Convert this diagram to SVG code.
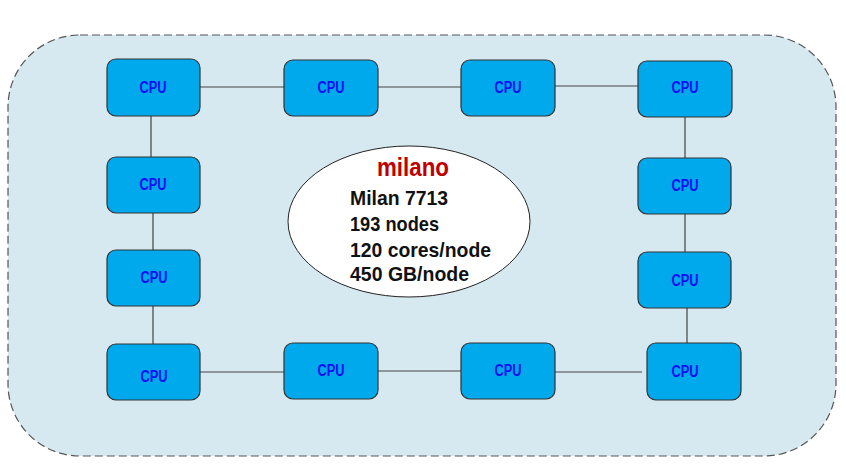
<svg xmlns="http://www.w3.org/2000/svg" width="846" height="469" viewBox="0 0 846 469">
<style>
.node rect{fill:#00a8ec;stroke:#333;stroke-width:1.2}
.node text{font-family:"Liberation Sans",Arial,sans-serif;font-weight:bold;font-size:16px;fill:#1010f0;text-anchor:middle}
.conn line{stroke:#444;stroke-width:1.2}
.info{font-family:"Liberation Sans",Arial,sans-serif;font-weight:bold;font-size:21px;fill:#111}
</style>
<rect x="0" y="0" width="846" height="469" fill="#fff"/>
<rect id="cluster" x="8" y="35" width="828" height="421" rx="72" ry="72" fill="#d6e9f1" stroke="#555" stroke-width="1.2" stroke-dasharray="8,4"/>
<g id="connectors" class="conn">
<line x1="200" y1="87" x2="284" y2="87"/>
<line x1="378" y1="87" x2="461" y2="87"/>
<line x1="555" y1="86" x2="638" y2="86"/>
<line x1="151" y1="116" x2="151" y2="157"/>
<line x1="153" y1="213" x2="153" y2="250"/>
<line x1="153" y1="306" x2="153" y2="344"/>
<line x1="685" y1="117" x2="685" y2="158"/>
<line x1="685" y1="214" x2="685" y2="252"/>
<line x1="687" y1="308" x2="687" y2="343"/>
<line x1="200" y1="372" x2="284" y2="372"/>
<line x1="378" y1="371" x2="461" y2="371"/>
<line x1="555" y1="372" x2="642" y2="372"/>
</g>
<g id="cpu1" class="node"><rect x="107" y="59" width="93" height="57" rx="9"/><text x="153" y="93" textLength="27" lengthAdjust="spacingAndGlyphs">CPU</text></g>
<g id="cpu2" class="node"><rect x="284" y="60" width="94" height="56" rx="9"/><text x="331" y="93" textLength="27" lengthAdjust="spacingAndGlyphs">CPU</text></g>
<g id="cpu3" class="node"><rect x="461" y="60" width="94" height="56" rx="9"/><text x="508" y="93" textLength="27" lengthAdjust="spacingAndGlyphs">CPU</text></g>
<g id="cpu4" class="node"><rect x="638" y="61" width="94" height="56" rx="9"/><text x="685" y="93" textLength="27" lengthAdjust="spacingAndGlyphs">CPU</text></g>
<g id="cpu5" class="node"><rect x="107" y="157" width="93" height="56" rx="9"/><text x="153" y="190" textLength="27" lengthAdjust="spacingAndGlyphs">CPU</text></g>
<g id="cpu6" class="node"><rect x="638" y="158" width="93" height="56" rx="9"/><text x="685" y="191" textLength="27" lengthAdjust="spacingAndGlyphs">CPU</text></g>
<g id="cpu7" class="node"><rect x="107" y="250" width="93" height="56" rx="9"/><text x="154" y="283" textLength="27" lengthAdjust="spacingAndGlyphs">CPU</text></g>
<g id="cpu8" class="node"><rect x="638" y="252" width="93" height="56" rx="9"/><text x="685" y="286" textLength="27" lengthAdjust="spacingAndGlyphs">CPU</text></g>
<g id="cpu9" class="node"><rect x="107" y="344" width="93" height="56" rx="9"/><text x="154" y="382" textLength="27" lengthAdjust="spacingAndGlyphs">CPU</text></g>
<g id="cpu10" class="node"><rect x="284" y="343" width="94" height="56" rx="9"/><text x="331" y="376" textLength="27" lengthAdjust="spacingAndGlyphs">CPU</text></g>
<g id="cpu11" class="node"><rect x="461" y="343" width="94" height="56" rx="9"/><text x="508" y="376" textLength="27" lengthAdjust="spacingAndGlyphs">CPU</text></g>
<g id="cpu12" class="node"><rect x="647" y="343" width="94" height="57" rx="9"/><text x="685" y="377" textLength="27" lengthAdjust="spacingAndGlyphs">CPU</text></g>
<g id="milano">
<ellipse cx="409" cy="221.5" rx="121" ry="75.5" fill="#fff" stroke="#222" stroke-width="1"/>
<text x="413" y="176" text-anchor="middle" font-family="'Liberation Sans',Arial,sans-serif" font-weight="bold" font-size="25" fill="#c00000" textLength="72" lengthAdjust="spacingAndGlyphs">milano</text>
<text class="info" x="350" y="205" textLength="98" lengthAdjust="spacingAndGlyphs">Milan 7713</text>
<text class="info" x="350" y="231" textLength="89" lengthAdjust="spacingAndGlyphs">193 nodes</text>
<text class="info" x="350" y="257" textLength="141" lengthAdjust="spacingAndGlyphs">120 cores/node</text>
<text class="info" x="350" y="281" textLength="119" lengthAdjust="spacingAndGlyphs">450 GB/node</text>
</g>
</svg>
